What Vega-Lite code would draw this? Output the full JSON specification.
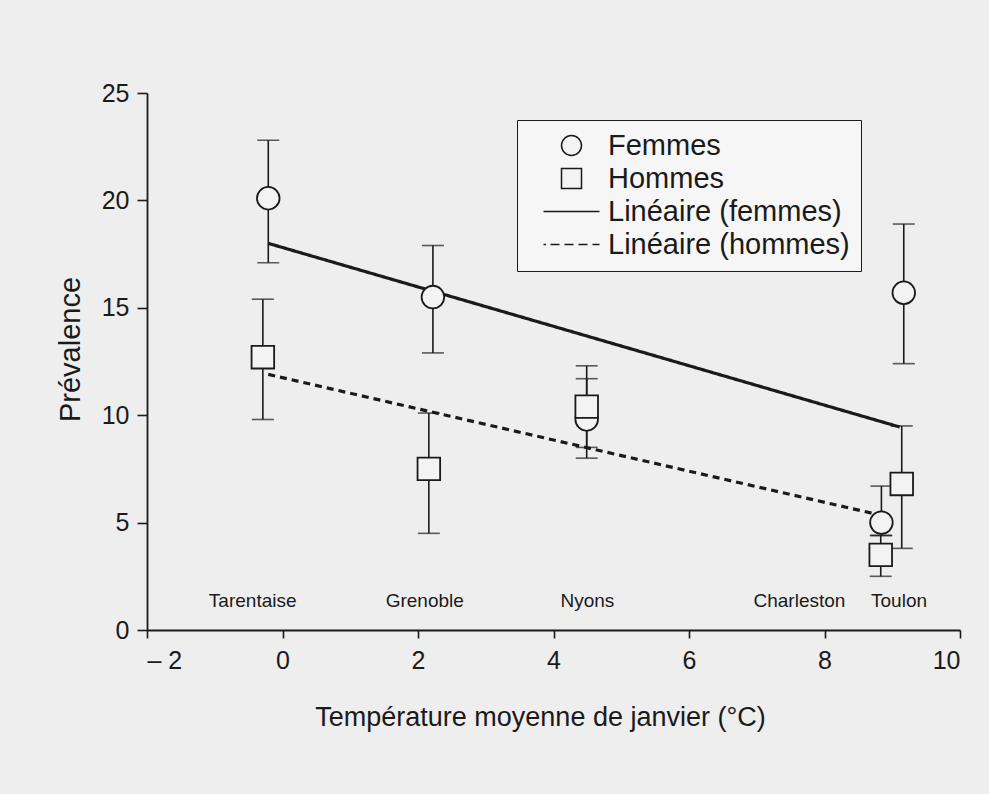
{
  "$schema": "https://vega.github.io/schema/vega-lite/v6.json",
  "width": 813,
  "height": 537,
  "autosize": {"type": "none"},
  "padding": {"left": 147, "top": 93, "right": 29, "bottom": 164},
  "background": "#eeeeee",
  "config": {
    "view": {"stroke": null},
    "font": "Liberation Sans",
    "axis": {
      "grid": false,
      "domainColor": "#1a1a1a",
      "domainWidth": 1.8,
      "tickColor": "#1a1a1a",
      "tickWidth": 1.6,
      "labelColor": "#1a1a1a",
      "titleColor": "#1a1a1a",
      "labelFont": "Liberation Sans",
      "titleFont": "Liberation Sans",
      "titleFontWeight": "normal"
    }
  },
  "datasets": {
    "points": [
      {"ville": "Tarentaise", "sexe": "Femmes", "temp": -0.21, "prev": 20.1, "lo": 17.1, "hi": 22.8},
      {"ville": "Tarentaise", "sexe": "Hommes", "temp": -0.29, "prev": 12.7, "lo": 9.8, "hi": 15.4},
      {"ville": "Grenoble", "sexe": "Femmes", "temp": 2.22, "prev": 15.5, "lo": 12.9, "hi": 17.9},
      {"ville": "Grenoble", "sexe": "Hommes", "temp": 2.16, "prev": 7.5, "lo": 4.5, "hi": 10.1},
      {"ville": "Nyons", "sexe": "Femmes", "temp": 4.49, "prev": 9.8, "lo": 8.5, "hi": 11.7},
      {"ville": "Nyons", "sexe": "Hommes", "temp": 4.49, "prev": 10.4, "lo": 8.0, "hi": 12.3},
      {"ville": "Charleston", "sexe": "Femmes", "temp": 8.84, "prev": 5.0, "lo": 4.4, "hi": 6.7},
      {"ville": "Charleston", "sexe": "Hommes", "temp": 8.83, "prev": 3.5, "lo": 2.5, "hi": 4.4},
      {"ville": "Toulon", "sexe": "Femmes", "temp": 9.17, "prev": 15.7, "lo": 12.4, "hi": 18.9},
      {"ville": "Toulon", "sexe": "Hommes", "temp": 9.14, "prev": 6.8, "lo": 3.8, "hi": 9.5}
    ],
    "trends": [
      {"serie": "Linéaire (femmes)", "temp": -0.21, "prev": 18.0},
      {"serie": "Linéaire (femmes)", "temp": 9.11, "prev": 9.45},
      {"serie": "Linéaire (hommes)", "temp": -0.21, "prev": 11.9},
      {"serie": "Linéaire (hommes)", "temp": 8.82, "prev": 5.35}
    ],
    "villes": [
      {"ville": "Tarentaise", "temp": -0.44, "prev": 1.05},
      {"ville": "Grenoble", "temp": 2.1, "prev": 1.05},
      {"ville": "Nyons", "temp": 4.5, "prev": 1.05},
      {"ville": "Charleston", "temp": 7.63, "prev": 1.05},
      {"ville": "Toulon", "temp": 9.1, "prev": 1.05}
    ]
  },
  "encoding": {
    "x": {
      "field": "temp",
      "type": "quantitative",
      "scale": {"domain": [-2, 10], "nice": false, "zero": false},
      "axis": {
        "title": "Température moyenne de janvier (°C)",
        "values": [-2, 0, 2, 4, 6, 8, 10],
        "labelExpr": "datum.value < 0 ? '– ' + abs(datum.value) : datum.label",
        "tickSize": 8,
        "labelFontSize": 25,
        "labelPadding": 10,
        "titleFontSize": 27,
        "titlePadding": 31,
        "titleX": 393,
        "titleAlign": "center"
      }
    },
    "y": {
      "field": "prev",
      "type": "quantitative",
      "scale": {"domain": [0, 25], "nice": false},
      "axis": {
        "title": "Prévalence",
        "values": [0, 5, 10, 15, 20, 25],
        "tickSize": 10,
        "labelFontSize": 25,
        "labelPadding": 8,
        "titleFontSize": 29,
        "titlePadding": 16,
        "titleY": 256,
        "titleAlign": "center"
      }
    }
  },
  "layer": [
    {
      "data": {"name": "trends"},
      "mark": {"type": "line", "color": "#1a1a1a", "strokeWidth": 3.2},
      "encoding": {
        "detail": {"field": "serie"},
        "strokeDash": {
          "field": "serie",
          "type": "nominal",
          "scale": {"domain": ["Linéaire (femmes)", "Linéaire (hommes)"], "range": [[1, 0], [7, 5]]},
          "legend": null
        }
      }
    },
    {
      "data": {"name": "points"},
      "mark": {"type": "rule", "color": "#1a1a1a", "strokeWidth": 1.6},
      "encoding": {
        "y": {"field": "lo", "type": "quantitative"},
        "y2": {"field": "hi"}
      }
    },
    {
      "data": {"name": "points"},
      "mark": {"type": "tick", "orient": "horizontal", "color": "#1a1a1a", "size": 22, "thickness": 1.6},
      "encoding": {"y": {"field": "lo", "type": "quantitative"}}
    },
    {
      "data": {"name": "points"},
      "mark": {"type": "tick", "orient": "horizontal", "color": "#1a1a1a", "size": 22, "thickness": 1.6},
      "encoding": {"y": {"field": "hi", "type": "quantitative"}}
    },
    {
      "data": {"name": "points"},
      "mark": {"type": "point", "filled": true, "fill": "#f3f3f3", "stroke": "#1a1a1a", "strokeWidth": 1.8, "size": 510, "opacity": 1},
      "encoding": {
        "shape": {
          "field": "sexe",
          "type": "nominal",
          "scale": {
            "domain": ["Femmes", "Hommes", "Linéaire (femmes)", "Linéaire (hommes)"],
            "range": ["circle", "square", "M-2.8,0H2.8", "M-2.8,0H-2.55M-2.1,0H-1.2M-0.7,0H0.2M0.7,0H1.6M2.1,0H2.8"]
          },
          "legend": {
            "title": null,
            "orient": "none",
            "legendX": 370,
            "legendY": 27,
            "padding": 11,
            "symbolOffset": 29,
            "symbolSize": 400,
            "labelFontSize": 29,
            "labelFont": "Liberation Sans",
            "labelColor": "#1a1a1a",
            "labelOffset": 22,
            "labelLimit": 400,
            "rowPadding": 3,
            "strokeColor": "#1a1a1a",
            "fillColor": "#f6f6f6",
            "encode": {
              "symbols": {
                "update": {
                  "stroke": {"value": "#1a1a1a"},
                  "strokeWidth": {"value": 2.4},
                  "fill": {"value": "#f6f6f6"},
                  "opacity": {"value": 1},
                  "strokeOpacity": {"value": 1}
                }
              }
            }
          }
        }
      }
    },
    {
      "data": {"name": "villes"},
      "mark": {"type": "text", "fontSize": 19, "font": "Liberation Sans", "color": "#1a1a1a", "align": "center", "baseline": "alphabetic"},
      "encoding": {"text": {"field": "ville"}}
    }
  ]
}
